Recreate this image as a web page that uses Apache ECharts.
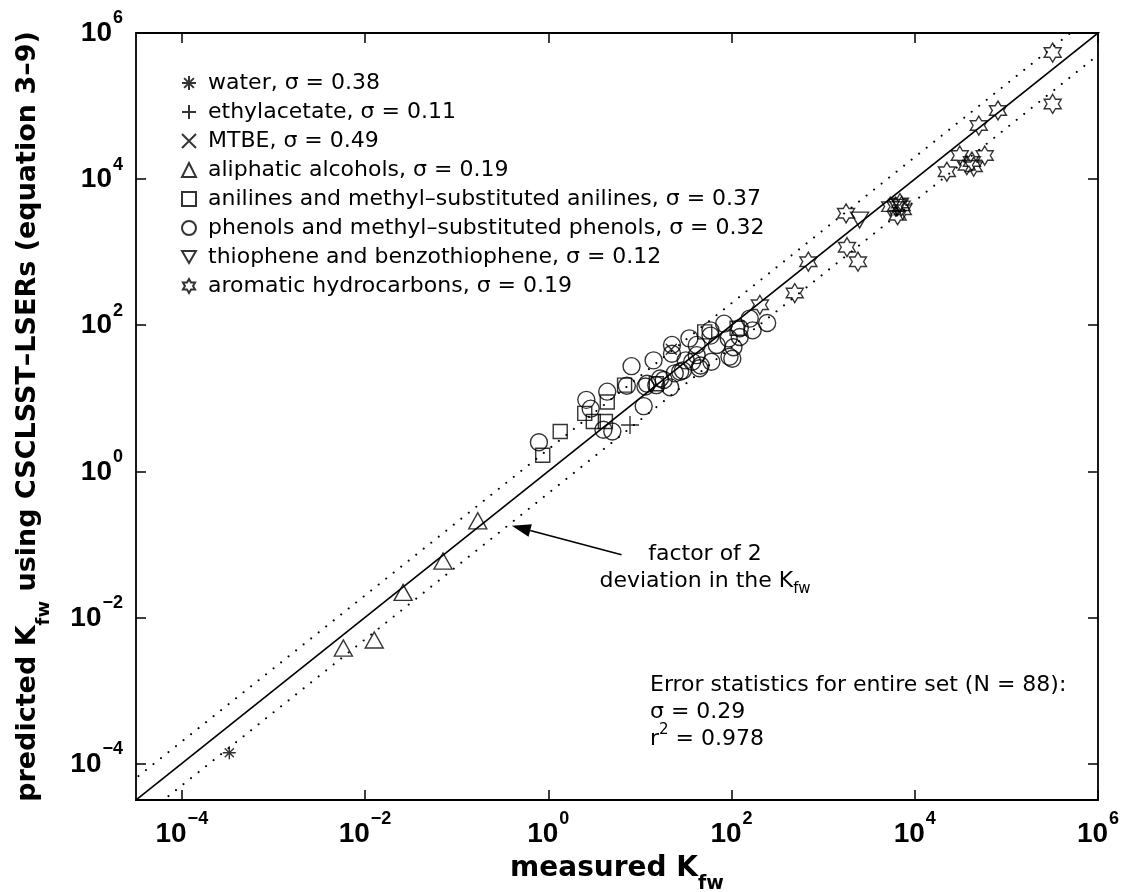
<!DOCTYPE html>
<html>
<head>
<meta charset="utf-8">
<script src="https://cdn.jsdelivr.net/npm/echarts@6/dist/echarts.min.js"></script>
<style>
html,body{margin:0;padding:0;background:#fff;}
#chart{width:1144px;height:892px;}
</style>
</head>
<body>
<div id="chart"></div>
<script>
// ---------------- data (measured Kfw, predicted Kfw) ----------------
const categories = [
  'water, σ = 0.38',
  'ethylacetate, σ = 0.11',
  'MTBE, σ = 0.49',
  'aliphatic alcohols, σ = 0.19',
  'anilines and methyl–substituted anilines, σ = 0.37',
  'phenols and methyl–substituted phenols, σ = 0.32',
  'thiophene and benzothiophene, σ = 0.12',
  'aromatic hydrocarbons, σ = 0.19'
];

const water = [[3.3e-4, 1.4e-4]];
const ethylacetate = [[7.8, 4.3]];
const mtbe = [[22, 47]];
const alcohols = [[0.17, 0.21], [0.071, 0.059], [0.026, 0.022], [0.0126, 0.0049], [0.0058, 0.0038]];
const anilines = [[0.87, 1.66], [1.35, 3.5], [2.5, 6.2], [3.1, 4.8], [4.2, 4.8], [4.4, 8.9],
  [6.8, 15.1], [15.1, 15.8], [51, 81], [115, 91]];
const phenols = [[0.79, 2.5], [2.6, 9.5], [2.9, 7.2], [4.4, 12.3], [4.0, 3.7], [5.0, 3.5],
  [8.1, 27.5], [14.1, 33], [7.2, 14.8], [11.5, 14.5], [11.0, 7.8], [15.1, 15.1], [18.2, 17.8],
  [21.4, 14.1], [22.4, 53.7], [22.4, 40.7], [24, 21.9], [29.5, 24], [34.7, 66], [37.2, 31.6],
  [41.7, 53.7], [41.7, 38.9], [44.7, 25.7], [58.9, 85], [60.3, 31.6], [69, 53.7], [83, 105],
  [93, 66], [105, 50], [102, 34.7], [123, 69], [158, 123], [170, 85], [245, 107],
  [59, 72], [95, 37], [27.5, 23], [12, 15.8], [16.6, 18.6], [46, 28], [31.6, 33], [123, 91]];
const thiophenes = [[2500, 2750], [6500, 4100]];
const aromatics = [[3.2e5, 5.4e5], [3.2e5, 1.07e5], [8.1e4, 8.7e4], [5.0e4, 5.4e4], [3.1e4, 2.1e4],
  [5.8e4, 2.1e4], [4.2e4, 1.74e4], [3.7e4, 1.55e4], [4.4e4, 1.48e4], [2.24e4, 1.26e4],
  [5400, 4200], [6900, 4700], [7400, 3800], [6500, 3200], [6200, 4200], [7200, 4300],
  [1780, 3400], [1820, 1170], [2400, 740], [690, 740], [490, 275], [204, 190]];

// axis range, ticks, guide lines and annotation anchors (data space)
const axisMin = 3.1623e-5;   // 10^-4.5
const axisMax = 1e6;
const tickValues = [1e-4, 1e-2, 1, 1e2, 1e4, 1e6];
const deviationFactor = 2;
const arrowFrom = [6.3, 0.072];
const arrowTo = [0.40, 0.18];
const annotationLines = ['factor of 2', 'deviation in the K'];
const statsLines = ['Error statistics for entire set (N = 88):', 'σ = 0.29', ' = 0.978'];

// ---------------- styles ----------------
const TXT = "'DejaVu Sans', sans-serif";
const TICKF = "'Liberation Sans', Arial, sans-serif";
const NAMEF = "'DejaVu Sans', sans-serif";

const hexagram = 'path://M10,0L12.887,5L18.66,5L15.774,10L18.66,15L12.887,15L10,20L7.113,15L1.34,15L4.227,10L1.34,5L7.113,5Z';
const markerDefs = [
  {symbol: 'path://M0,5L10,5M5,0L5,10M1.5,1.5L8.5,8.5M1.5,8.5L8.5,1.5', size: 13},
  {symbol: 'path://M0,5L10,5M5,0L5,10', size: 18},
  {symbol: 'path://M0,0L10,10M0,10L10,0', size: 11},
  {symbol: 'triangle', size: [18, 16]},
  {symbol: 'rect', size: 14},
  {symbol: 'circle', size: 17},
  {symbol: 'path://M0,0L10,0L5,8.66Z', size: [18, 16]},
  {symbol: hexagram, size: [17, 19]}
];
const groups = [water, ethylacetate, mtbe, alcohols, anilines, phenols, thiophenes, aromatics];

function supLabel(v) {
  const e = Math.round(Math.log10(v));
  return '{b|10}{s|' + String(e).replace('-', '\u2212') + '}';
}

// tokens padded to equal height so alignment does not depend on token verticalAlign
const tickRichX = {
  b: {fontFamily: TICKF, fontWeight: 'bold', fontSize: 28, lineHeight: 28, color: '#000', padding: [10, 0, 0, 0]},
  s: {fontFamily: TICKF, fontWeight: 'bold', fontSize: 18, lineHeight: 18, color: '#000', padding: [0, 0, 20, 1]}
};
const tickRichY = {
  b: {fontFamily: TICKF, fontWeight: 'bold', fontSize: 28, lineHeight: 28, color: '#000', padding: [10, 0, 9, 0]},
  s: {fontFamily: TICKF, fontWeight: 'bold', fontSize: 18, lineHeight: 18, color: '#000', padding: [0, 0, 29, 1]}
};
const nameRichX = {
  b: {fontFamily: NAMEF, fontWeight: 'bold', fontSize: 28, lineHeight: 30, color: '#000', padding: [0, 0, 10, 0]},
  s: {fontFamily: NAMEF, fontWeight: 'bold', fontSize: 19, lineHeight: 18, color: '#000', padding: [22, 0, 0, 0]}
};
const nameRichY = {
  b: {fontFamily: NAMEF, fontWeight: 'bold', fontSize: 27, lineHeight: 30, color: '#000', padding: [0, 0, 10, 0]},
  s: {fontFamily: NAMEF, fontWeight: 'bold', fontSize: 18, lineHeight: 18, color: '#000', padding: [22, 0, 0, 0]}
};

function axisBase(extra) {
  return Object.assign({
    type: 'log', logBase: 10, min: axisMin, max: axisMax, gridIndex: 0,
    axisLine: {show: false},
    splitLine: {show: false},
    minorTick: {show: false},
    axisTick: {show: true, inside: true, length: 10, customValues: tickValues, lineStyle: {color: '#000', width: 1.5}},
  }, extra);
}

const scatterSeries = groups.map((g, i) => ({
  name: categories[i],
  type: 'scatter',
  data: g,
  symbol: markerDefs[i].symbol,
  symbolSize: markerDefs[i].size,
  itemStyle: {color: 'rgba(0,0,0,0)', borderColor: '#000', borderWidth: 1.4},
  emphasis: {disabled: true},
  z: 3
}));

const guide = (name, factor, dotted) => ({
  name: name,
  type: 'line',
  data: [[axisMin / deviationFactor, axisMin / deviationFactor * factor], [axisMax * deviationFactor, axisMax * deviationFactor * factor]],
  symbol: 'none',
  silent: true,
  clip: true,
  z: 2,
  itemStyle: {color: '#000'},
  lineStyle: dotted
    ? {color: '#000', width: 2, type: [0.1, 9.5], cap: 'round'}
    : {color: '#000', width: 1.6, type: 'solid'},
  emphasis: {disabled: true}
});

const series = [
  guide('__parity', 1, false),
  guide('__upper', deviationFactor, true),
  guide('__lower', 1 / deviationFactor, true)
].concat(scatterSeries);

const option = {
  animation: false,
  backgroundColor: '#fff',
  grid: {left: 136, right: 46, top: 33, bottom: 92, outerBoundsMode: 'none', containLabel: false,
    show: true, borderColor: '#000', borderWidth: 1.8, backgroundColor: 'rgba(0,0,0,0)'},
  legend: {
    data: categories,
    orient: 'vertical',
    left: 181,
    top: 72,
    padding: 0,
    itemGap: 7,
    itemWidth: 14,
    itemHeight: 14,
    selectedMode: false,
    textStyle: {fontFamily: TXT, fontSize: 22, lineHeight: 21, color: '#000', padding: [0, 0, 0, 7]}
  },
  xAxis: [
    axisBase({
      position: 'bottom',
      name: '{b|measured K}{s|fw}',
      nameLocation: 'middle',
      nameGap: 50,
      nameTextStyle: {rich: nameRichX},
      axisLabel: {show: true, customValues: tickValues, formatter: supLabel, margin: 15, rich: tickRichX}
    }),
    axisBase({position: 'top', axisLabel: {show: false}})
  ],
  yAxis: [
    axisBase({
      position: 'left',
      name: '{b|predicted K}{s|fw}{b| using CSCLSST–LSERs (equation 3–9)}',
      nameLocation: 'middle',
      nameGap: 88,
      nameTextStyle: {rich: nameRichY},
      axisLabel: {show: true, customValues: tickValues, formatter: supLabel, margin: 13, rich: tickRichY}
    }),
    axisBase({position: 'right', axisLabel: {show: false}})
  ],
  graphic: [
    {
      id: 'note', type: 'text', x: 705, y: 543, silent: true, z: 10,
      style: {
        text: '{a|' + annotationLines[0] + '}\n{a|' + annotationLines[1] + '}{s|fw}',
        align: 'center', verticalAlign: 'top',
        rich: {
          a: {fontFamily: TXT, fontSize: 22, lineHeight: 27, color: '#000', verticalAlign: 'top'},
          s: {fontFamily: TXT, fontSize: 15, lineHeight: 15, color: '#000', verticalAlign: 'bottom', padding: [19, 0, 0, 0]}
        }
      }
    },
    {
      id: 'stats', type: 'text', x: 650, y: 669, silent: true, z: 10,
      style: {
        text: '{a|' + statsLines[0] + '}\n{a|' + statsLines[1] + '}\n{a|r}{p|2}{a|' + statsLines[2] + '}',
        align: 'left', verticalAlign: 'top',
        rich: {
          a: {fontFamily: TXT, fontSize: 22, lineHeight: 27, color: '#000', verticalAlign: 'bottom'},
          p: {fontFamily: TXT, fontSize: 15, lineHeight: 15, color: '#000', verticalAlign: 'top'}
        }
      }
    }
  ],
  series: series
};

const chart = echarts.init(document.getElementById('chart'), null, {renderer: 'canvas'});
chart.setOption(option);

// arrow annotation, placed through the chart's own coordinate system
const p0 = chart.convertToPixel({gridIndex: 0}, arrowFrom);
const p1 = chart.convertToPixel({gridIndex: 0}, arrowTo);
const dx = p1[0] - p0[0], dy = p1[1] - p0[1];
const len = Math.sqrt(dx * dx + dy * dy);
const ux = dx / len, uy = dy / len;
const headL = 19, headW = 6.5;
const bx = p1[0] - ux * headL, by = p1[1] - uy * headL;
chart.setOption({
  graphic: [
    {id: 'arrowLine', type: 'line', silent: true, z: 10,
      shape: {x1: p0[0], y1: p0[1], x2: bx, y2: by},
      style: {stroke: '#000', lineWidth: 1.6}},
    {id: 'arrowHead', type: 'polygon', silent: true, z: 10,
      shape: {points: [[p1[0], p1[1]], [bx - uy * headW, by + ux * headW], [bx + uy * headW, by - ux * headW]]},
      style: {fill: '#000'}}
  ]
});
</script>
</body>
</html>
